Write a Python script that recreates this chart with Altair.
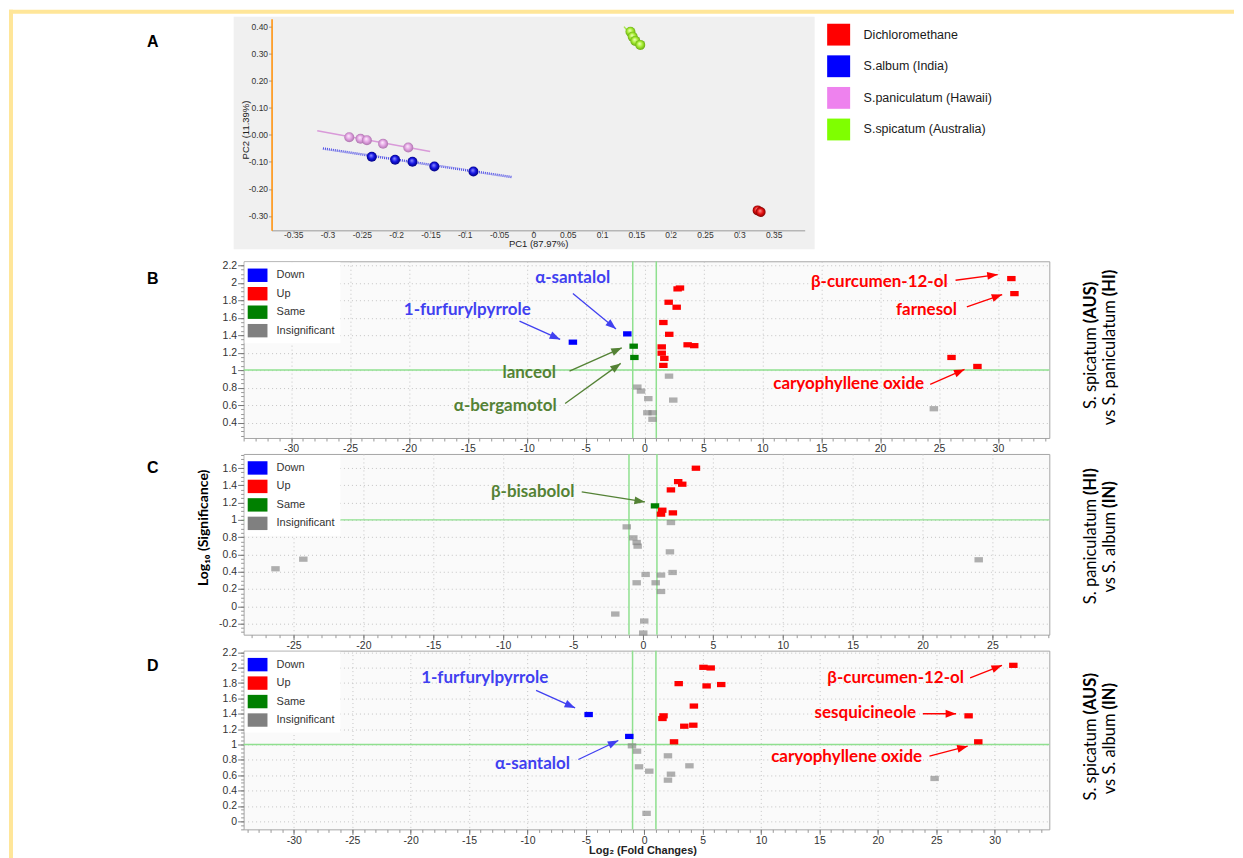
import math
import altair as alt
import pandas as pd

AX_FONT = "Liberation Sans"
ANN_FONT = "Lato"

# ------------------------------------------------------------------ Panel A (PCA)
pca_groups = ["Dichloromethane", "S.album (India)", "S.paniculatum (Hawaii)", "S.spicatum (Australia)"]
pca_colors = ["#ff0000", "#0000ff", "#ee82ee", "#7fff00"]

pca_dcm_x = [0.3267, 0.3311]
pca_dcm_y = [-0.2793, -0.2856]
pca_alb_x = [-0.2355, -0.2015, -0.1762, -0.1443, -0.0874]
pca_alb_y = [-0.0812, -0.0923, -0.0996, -0.1170, -0.1354]
pca_pan_x = [-0.2683, -0.2519, -0.2426, -0.2190, -0.1823]
pca_pan_y = [-0.0089, -0.0148, -0.0199, -0.0332, -0.0469]
pca_spi_x = [0.1414, 0.1446, 0.1485, 0.1557]
pca_spi_y = [0.3810, 0.3627, 0.3469, 0.3321]

pca_line_pan_x = [-0.315, -0.1504]
pca_line_pan_y = [0.0148, -0.0616]
pca_line_alb_x = [-0.3067, -0.0308]
pca_line_alb_y = [-0.0506, -0.1565]
pca_line_spi_x = [0.132, 0.1594]
pca_line_spi_y = [0.3996, 0.3159]

pca_xticks = [-0.35, -0.3, -0.25, -0.2, -0.15, -0.1, -0.05, 0, 0.05, 0.1, 0.15, 0.2, 0.25, 0.3, 0.35]
pca_yticks = [0.4, 0.3, 0.2, 0.1, 0.0, -0.1, -0.2, -0.3]

# ------------------------------------------------------------------ volcano categories
CATS = ["Down", "Up", "Same", "Insignificant"]
CAT_COLORS = ["#0000ff", "#ff0000", "#008000", "#808080"]
FC_CUT = [-1, 1]
SIG_CUT = 1

BLUE_T = "#4040f0"
GREEN_T = "#548235"
RED_T = "#ff0000"

# ------------------------------------------------------------------ Panel B
b_down_x = [-6.08, -1.46]
b_down_y = [1.320, 1.415]
b_same_x = [-0.92, -0.86]
b_same_y = [1.274, 1.145]
b_up_x = [31.14, 31.40, 26.06, 28.26, 2.81, 3.01, 2.05, 2.73, 1.60, 2.10, 3.66, 4.22, 1.46, 1.46, 1.68, 1.60]
b_up_y = [2.048, 1.876, 1.145, 1.042, 1.930, 1.940, 1.777, 1.720, 1.545, 1.410, 1.290, 1.280, 1.266, 1.194, 1.134, 1.054]
b_ins_x = [-0.61, -0.30, 0.32, 0.24, 0.69, 0.68, 2.08, 2.44, 24.56]
b_ins_y = [0.806, 0.760, 0.674, 0.512, 0.512, 0.437, 0.931, 0.657, 0.558]

b_lab_text = ["α-santalol", "1-furfurylpyrrole", "lanceol", "α-bergamotol",
              "β-curcumen-12-ol", "farnesol", "caryophyllene oxide"]
b_lab_x = [-6.10, -15.04, -9.79, -11.82, 19.93, 23.94, 17.33]
b_lab_y = [2.057, 1.691, 0.971, 0.589, 2.011, 1.689, 0.837]
b_lab_col = [BLUE_T, BLUE_T, GREEN_T, GREEN_T, RED_T, RED_T, RED_T]
b_arr_x1 = [-6.08, -10.61, -6.37, -6.74, 26.40, 27.36, 24.25]
b_arr_y1 = [1.877, 1.560, 0.989, 0.619, 2.029, 1.723, 0.836]
b_arr_x2 = [-2.42, -7.16, -1.93, -2.02, 29.98, 30.36, 27.16]
b_arr_y2 = [1.472, 1.351, 1.255, 1.077, 2.094, 1.865, 1.008]
b_arr_col = [BLUE_T, BLUE_T, GREEN_T, GREEN_T, RED_T, RED_T, RED_T]

# ------------------------------------------------------------------ Panel C
c_same_x = [0.86]
c_same_y = [1.162]
c_up_x = [3.79, 2.52, 2.81, 2.00, 1.38, 1.29, 2.14]
c_up_y = [1.598, 1.443, 1.413, 1.347, 1.112, 1.066, 1.081]
c_ins_x = [-1.16, -0.69, -0.45, -0.38, -26.29, -24.30, 0.19, -0.45, 0.91, -1.98, 0.09, 0.02,
           2.00, 1.93, 1.29, 2.12, 1.29, 24.02]
c_ins_y = [0.919, 0.792, 0.738, 0.696, 0.434, 0.545, 0.368, 0.272, 0.272, -0.090, -0.171, -0.310,
           0.969, 0.630, 0.361, 0.391, 0.171, 0.538]

c_lab_text = ["β-bisabolol"]
c_lab_x = [-7.89]
c_lab_y = [1.326]
c_lab_col = [GREEN_T]
c_arr_x1 = [-4.38]
c_arr_y1 = [1.324]
c_arr_x2 = [0.14]
c_arr_y2 = [1.208]
c_arr_col = [GREEN_T]

# ------------------------------------------------------------------ Panel D
d_down_x = [-4.76, -1.28]
d_down_y = [1.390, 1.105]
d_up_x = [31.60, 27.77, 28.60, 5.07, 5.69, 2.95, 5.34, 6.59, 4.25, 1.65, 1.56, 3.43, 4.20, 2.55]
d_up_y = [2.030, 1.373, 1.035, 2.004, 1.996, 1.792, 1.762, 1.780, 1.500, 1.373, 1.338, 1.238, 1.251, 1.035]
d_ins_x = [-1.05, -0.62, -0.45, 0.43, 0.20, 2.03, 3.87, 2.29, 2.03, 24.86]
d_ins_y = [0.983, 0.913, 0.710, 0.653, 0.104, 0.853, 0.723, 0.614, 0.536, 0.558]

d_lab_text = ["1-furfurylpyrrole", "α-santalol", "β-curcumen-12-ol", "sesquicineole", "caryophyllene oxide"]
d_lab_x = [-13.66, -9.57, 21.52, 18.93, 17.33]
d_lab_y = [1.866, 0.749, 1.870, 1.412, 0.831]
d_lab_col = [BLUE_T, BLUE_T, RED_T, RED_T, RED_T]
d_arr_x1 = [-9.26, -5.64, 27.90, 23.85, 24.42]
d_arr_y1 = [1.705, 0.805, 1.866, 1.400, 0.848]
d_arr_x2 = [-5.92, -2.22, 30.63, 26.70, 27.69]
d_arr_y2 = [1.476, 1.052, 2.030, 1.400, 0.978]
d_arr_col = [BLUE_T, BLUE_T, RED_T, RED_T, RED_T]

# axis ticks
b_xticks = [-30, -25, -20, -15, -10, -5, 0, 5, 10, 15, 20, 25, 30]
c_xticks = [-25, -20, -15, -10, -5, 0, 5, 10, 15, 20, 25]
d_xticks = b_xticks
b_yticks = [0.4, 0.6, 0.8, 1.0, 1.2, 1.4, 1.6, 1.8, 2.0, 2.2]
c_yticks = [-0.2, 0.0, 0.2, 0.4, 0.6, 0.8, 1.0, 1.2, 1.4, 1.6]
d_yticks = [0.0, 0.2, 0.4, 0.6, 0.8, 1.0, 1.2, 1.4, 1.6, 1.8, 2.0, 2.2]

# ------------------------------------------------------------------ layout constants
RECT = "M-1,-0.62H1V0.62H-1Z"
LEG_RECT = "M-1.4,-0.95H1.4V0.95H-1.4Z"
HEAD = "M0,0L0.75,2L-0.75,2Z"
LINE_GREEN = "#8fe08f"
BAND = "#ffe699"
W = 807
ORIG_A = (243, 17)
ORIG_B = (243, 260)
ORIG_C = (243, 453)
ORIG_D = (243, 650)
SIDE_FS = 16.5


def pts_df(groups):
    rows = []
    for cat, xs, ys in groups:
        for x, y in zip(xs, ys):
            rows.append({"x": x, "y": y, "cat": cat})
    return pd.DataFrame(rows)


def fixed_text(txt, px, py, origin, **kw):
    ox, oy = origin
    return alt.Chart(pd.DataFrame({"t": [txt]})).mark_text(**kw).encode(
        text="t:N", x=alt.value(px - ox), y=alt.value(py - oy))


def side_labels(lines, origin):
    out = []
    for reg, bold, px, jy in lines:
        out.append(fixed_text(reg, px, jy, origin, angle=270, align="right", baseline="middle",
                              font=ANN_FONT, fontSize=SIDE_FS, color="black"))
        out.append(fixed_text(bold, px, jy - 4, origin, angle=270, align="left", baseline="middle",
                              font=ANN_FONT, fontSize=SIDE_FS, fontWeight="bold", color="black"))
    return out


def volcano(df, xdom, ydom, xticks, yticks, w, h, labs, arrs, extras):
    xs = alt.Scale(domain=xdom, nice=False, zero=False)
    ys = alt.Scale(domain=ydom, nice=False, zero=False)
    xminor = [v for v in range(math.ceil(xdom[0]), math.floor(xdom[1]) + 1)]
    yminor = [round(v * 0.05, 2) for v in range(math.ceil(ydom[0] / 0.05), math.floor(ydom[1] / 0.05) + 1)]
    common = dict(labelFont=AX_FONT, labelFontSize=10.5, labelColor="#333333",
                  tickColor="#777777", domain=False, title=None)
    x_major = alt.Axis(orient="bottom", values=xticks, format="~g", grid=True, gridDash=[1, 3],
                       gridColor="#c4c4c4", tickSize=5, labelPadding=1, **common)
    y_major = alt.Axis(orient="left", values=yticks, format=".1~f", grid=True, gridDash=[1, 3],
                       gridColor="#c4c4c4", tickSize=6, labelPadding=1, **common)
    x_minor = alt.Axis(orient="bottom", values=xminor, labels=False, grid=False, tickSize=3,
                       tickColor="#999999", domain=False, title=None)
    y_minor = alt.Axis(orient="left", values=yminor, labels=False, grid=False, tickSize=3,
                       tickColor="#999999", domain=False, title=None)
    leg = alt.Legend(title=None, orient="top-left", offset=1, fillColor="white", padding=5.5,
                     symbolType=LEG_RECT, symbolSize=200, symbolStrokeWidth=0, symbolOpacity=1,
                     labelFont=AX_FONT, labelFontSize=11, labelColor="#333333",
                     labelOffset=11.5, rowPadding=3.5)

    minor = alt.Chart(df).mark_point(opacity=0).encode(
        x=alt.X("x:Q", scale=xs, axis=x_minor), y=alt.Y("y:Q", scale=ys, axis=y_minor))
    vr = alt.Chart(pd.DataFrame({"x": FC_CUT})).mark_rule(color=LINE_GREEN, strokeWidth=1.5).encode(
        x=alt.X("x:Q", scale=xs, axis=None))
    hr = alt.Chart(pd.DataFrame({"y": [SIG_CUT]})).mark_rule(color=LINE_GREEN, strokeWidth=1.5).encode(
        y=alt.Y("y:Q", scale=ys, axis=None))
    pts = alt.Chart(df).mark_point(filled=True, shape=RECT, size=72, strokeWidth=0).encode(
        x=alt.X("x:Q", scale=xs, axis=x_major),
        y=alt.Y("y:Q", scale=ys, axis=y_major),
        color=alt.Color("cat:N", scale=alt.Scale(domain=CATS, range=CAT_COLORS), legend=leg),
        opacity=alt.condition("datum.cat == 'Insignificant'", alt.value(0.62), alt.value(1.0)),
    )

    sx = w / (xdom[1] - xdom[0])
    sy = h / (ydom[1] - ydom[0])
    arr = pd.DataFrame(arrs)
    arr["ang"] = [(math.degrees(math.atan2((b - a) * sx, (d - c) * sy)) + 360) % 360
                  for a, b, c, d in zip(arr.x1, arr.x2, arr.y1, arr.y2)]
    line = alt.Chart(arr).mark_rule(strokeWidth=1.3).encode(
        x=alt.X("x1:Q", scale=xs, axis=None), y=alt.Y("y1:Q", scale=ys, axis=None),
        x2="x2:Q", y2="y2:Q", stroke=alt.Stroke("col:N", scale=None))
    head = alt.Chart(arr).mark_point(shape=HEAD, filled=True, size=110, strokeWidth=0, opacity=1).encode(
        x=alt.X("x2:Q", scale=xs, axis=None), y=alt.Y("y2:Q", scale=ys, axis=None),
        fill=alt.Fill("col:N", scale=None), angle=alt.Angle("ang:Q", scale=None))
    txt = alt.Chart(pd.DataFrame(labs)).mark_text(font=ANN_FONT, fontSize=17, fontWeight="bold",
                                                  baseline="middle", align="center").encode(
        x=alt.X("x:Q", scale=xs, axis=None), y=alt.Y("y:Q", scale=ys, axis=None),
        text="text:N", fill=alt.Fill("col:N", scale=None))
    return alt.layer(minor, vr, hr, pts, line, head, txt, *extras).resolve_axis(
        x="independent", y="independent").properties(
        width=w, height=h, view=alt.ViewBackground(fill="#fafafa", stroke="#a6a6a6"))


# ------------------------------------------------------------------ Panel A chart
def sphere_grad(hi, mid, edge):
    return alt.RadialGradient(
        gradient="radial", x1=0.42, y1=0.36, r1=0.0, x2=0.5, y2=0.5, r2=0.55,
        stops=[alt.GradientStop(offset=0.0, color=hi), alt.GradientStop(offset=0.5, color=mid),
               alt.GradientStop(offset=1.0, color=edge)])


A_H = 227          # row height (plot 212 px + gap)
A_X0, A_X1 = 28, 562   # PCA plot span inside the row (page x 271 .. 805)
A_PLOT_H = 212
xsA = alt.Scale(domain=[-0.3815, 0.3953], range=[A_X0, A_X1], nice=False, zero=False)
ysA = alt.Scale(domain=[-0.353, 0.429], range=[A_PLOT_H, 0], nice=False, zero=False)
pca_xax = alt.Axis(values=pca_xticks, format=".2~f", orient="bottom", grid=False, zindex=1,
                   offset=A_PLOT_H - A_H,
                   domainColor="#9a9a9a", tickColor="#9a9a9a", tickSize=3, labelFont=AX_FONT,
                   labelFontSize=8.5, labelColor="#333333", labelPadding=-3, title="PC1 (87.97%)",
                   titleFont=AX_FONT, titleFontSize=9.5, titleFontWeight="normal", titleColor="#222222",
                   titleY=8, titleBaseline="top")
pca_yax = alt.Axis(values=pca_yticks, format=".2f", orient="left", grid=False, zindex=1,
                   offset=-A_X0,
                   domainColor="#ff8c00", domainWidth=1.5, tickColor="#9a9a9a", tickSize=3,
                   labelFont=AX_FONT, labelFontSize=8.5, labelColor="#333333", labelPadding=1,
                   title="PC2 (11.39%)", titleFont=AX_FONT, titleFontSize=9.5, titleFontWeight="normal",
                   titleColor="#222222", titleX=245 - 271, titleY=128 - 17, titleBaseline="middle",
                   titleAngle=270)


def pca_line(xs_, ys_, **kw):
    return alt.Chart(pd.DataFrame({"x": xs_, "y": ys_})).mark_line(**kw).encode(
        x=alt.X("x:Q", scale=xsA, axis=pca_xax), y=alt.Y("y:Q", scale=ysA, axis=pca_yax))


def pca_spheres(xs_, ys_, grad):
    return alt.Chart(pd.DataFrame({"x": xs_, "y": ys_})).mark_circle(color=grad, size=100, opacity=1).encode(
        x=alt.X("x:Q", scale=xsA, axis=pca_xax), y=alt.Y("y:Q", scale=ysA, axis=pca_yax))


pca_inner = alt.layer(
    pca_line(pca_line_pan_x, pca_line_pan_y, color="#d99ad9", strokeWidth=1.5),
    pca_line(pca_line_alb_x, pca_line_alb_y, color="#4a4ae6", strokeWidth=2.5, strokeDash=[1, 1]),
    pca_line(pca_line_spi_x, pca_line_spi_y, color="#a6e84a", strokeWidth=1.5),
    pca_spheres(pca_pan_x, pca_pan_y, sphere_grad("#fff2ff", "#e3a3e3", "#a46ca4")),
    pca_spheres(pca_alb_x, pca_alb_y, sphere_grad("#9a9aff", "#1414e6", "#00006e")),
    pca_spheres(pca_spi_x, pca_spi_y, sphere_grad("#f2ffc4", "#a6ee30", "#5e9e10")),
    pca_spheres(pca_dcm_x, pca_dcm_y, sphere_grad("#ff9a9a", "#e81010", "#6a0000")),
)

ox, oy = ORIG_A
bgA = alt.Chart(pd.DataFrame({"a": [0]})).mark_rect(color="#f0f0f0").encode(
    x=alt.value(233 - ox), x2=alt.value(815 - ox), y=alt.value(15 - oy), y2=alt.value(248 - oy))
band_left = alt.Chart(pd.DataFrame({"a": [0]})).mark_rect(color=BAND).encode(
    x=alt.value(8 - ox), x2=alt.value(12 - ox), y=alt.value(8 - oy), y2=alt.value(858 - oy))
band_top = alt.Chart(pd.DataFrame({"a": [0]})).mark_rect(color=BAND).encode(
    x=alt.value(8 - ox), x2=alt.value(1235 - ox), y=alt.value(8 - oy), y2=alt.value(12 - oy))
letter_kw = dict(font=AX_FONT, fontSize=16, fontWeight="bold", color="black", align="center", baseline="middle")

leg_df = pd.DataFrame({"g": pca_groups})
leg_y = alt.Y("g:N", sort=pca_groups, axis=None,
              scale=alt.Scale(type="point", domain=pca_groups, range=[16, 111], padding=0))
leg_sq = alt.Chart(leg_df).mark_point(filled=True, shape="M-1,-0.95H1V0.95H-1Z", size=530,
                                      opacity=1, strokeWidth=0).encode(
    x=alt.value(839 - ox), y=leg_y,
    color=alt.Color("g:N", scale=alt.Scale(domain=pca_groups, range=pca_colors), legend=None))
leg_tx = alt.Chart(leg_df).mark_text(align="left", baseline="middle", font=AX_FONT, fontSize=12.5,
                                     color="#1a1a1a").encode(x=alt.value(864 - ox), y=leg_y, text="g:N")

top_row = alt.layer(
    band_left, band_top, bgA, fixed_text("A", 152, 40, ORIG_A, **letter_kw),
    pca_inner, leg_sq, leg_tx,
).resolve_scale(y="independent").properties(width=W, height=A_H)

# ------------------------------------------------------------------ Panels B, C, D
dfB = pts_df([("Down", b_down_x, b_down_y), ("Same", b_same_x, b_same_y),
              ("Up", b_up_x, b_up_y), ("Insignificant", b_ins_x, b_ins_y)])
dfC = pts_df([("Same", c_same_x, c_same_y), ("Up", c_up_x, c_up_y),
              ("Insignificant", c_ins_x, c_ins_y)])
dfD = pts_df([("Down", d_down_x, d_down_y), ("Up", d_up_x, d_up_y),
              ("Insignificant", d_ins_x, d_ins_y)])

extrasB = [fixed_text("B", 152, 278, ORIG_B, **letter_kw)] + side_labels(
    [("S. spicatum", "(AUS)", 1092, 326), ("vs S. paniculatum", "(HI)", 1111, 299)], ORIG_B)
extrasC = [fixed_text("C", 152, 467, ORIG_C, **letter_kw),
           fixed_text("Log₁₀ (Significance)", 203, 527, ORIG_C, angle=270, align="center",
                      baseline="middle", font=ANN_FONT, fontSize=14, fontWeight="bold", color="black")] + \
    side_labels([("S. paniculatum", "(HI)", 1092, 498), ("vs S. album", "(IN)", 1111, 511)], ORIG_C)
extrasD = [fixed_text("D", 152, 665, ORIG_D, **letter_kw),
           fixed_text("Log₂ (Fold Changes)", 643, 851, ORIG_D, align="center", baseline="middle",
                      font=AX_FONT, fontSize=11, fontWeight="bold", color="#222222")] + \
    side_labels([("S. spicatum", "(AUS)", 1092, 718), ("vs S. album", "(IN)", 1111, 713)], ORIG_D)

pB = volcano(dfB, [-34.03, 34.36], [0.223, 2.246], b_xticks, b_yticks, W, 177,
             {"text": b_lab_text, "x": b_lab_x, "y": b_lab_y, "col": b_lab_col},
             {"x1": b_arr_x1, "y1": b_arr_y1, "x2": b_arr_x2, "y2": b_arr_y2, "col": b_arr_col}, extrasB)
pC = volcano(dfC, [-28.57, 29.07], [-0.329, 1.763], c_xticks, c_yticks, W, 181,
             {"text": c_lab_text, "x": c_lab_x, "y": c_lab_y, "col": c_lab_col},
             {"x1": c_arr_x1, "y1": c_arr_y1, "x2": c_arr_x2, "y2": c_arr_y2, "col": c_arr_col}, extrasC)
pD = volcano(dfD, [-34.30, 34.68], [-0.104, 2.221], d_xticks, d_yticks, W, 179,
             {"text": d_lab_text, "x": d_lab_x, "y": d_lab_y, "col": d_lab_col},
             {"x1": d_arr_x1, "y1": d_arr_y1, "x2": d_arr_x2, "y2": d_arr_y2, "col": d_arr_col}, extrasD)

chart = alt.vconcat(top_row, pB, pC, pD, spacing=16, bounds="flush").resolve_scale(
    color="independent", x="independent", y="independent").properties(padding=0).configure(
    font=AX_FONT,
    locale={"number": {"decimal": ".", "thousands": ",", "grouping": [3],
                       "currency": ["$", ""], "minus": "-"}}).configure_view(stroke="transparent")

chart.save("out.html", embed_options={"renderer": "svg", "actions": False})
